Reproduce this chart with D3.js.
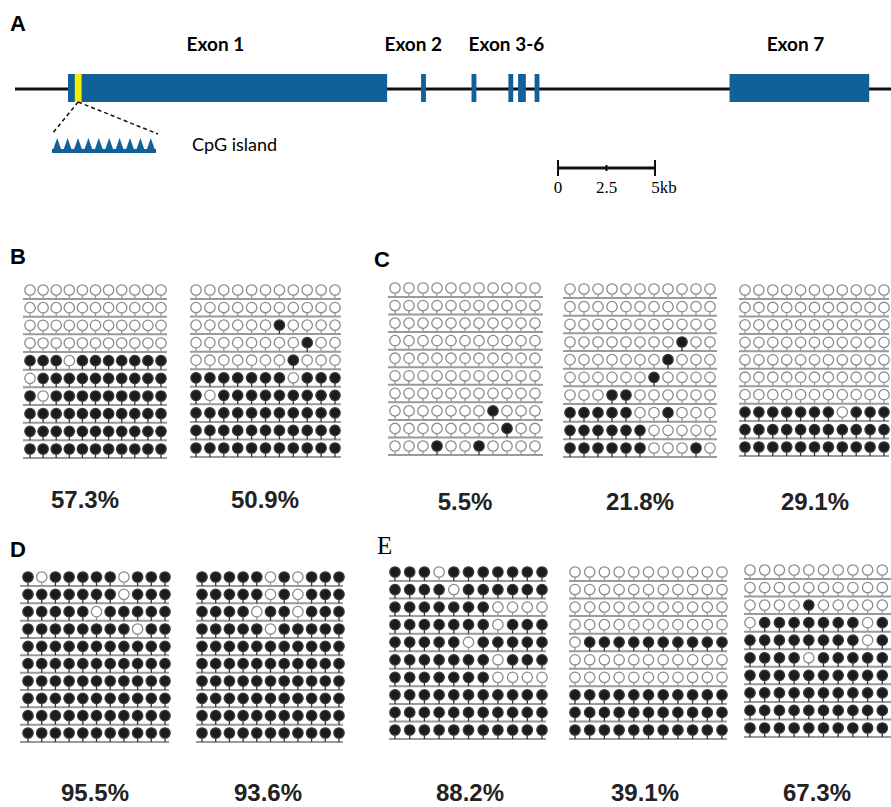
<!DOCTYPE html>
<html>
<head>
<meta charset="utf-8">
<script src="https://cdn.jsdelivr.net/npm/d3@7"></script>
<style>
  body { margin: 0; background: #fff; }
  svg { display: block; }
</style>
</head>
<body>
<div id="fig"></div>
<script>
// gene structure, positions in kb from start of exon 1
const exons = [
    { name: "Exon 1", start: 0, end: 16.45 },
    { name: "Exon 2", start: 18.2, end: 18.45 },
    { name: "Exon 3", start: 20.8, end: 21.05 },
    { name: "Exon 4", start: 22.7, end: 22.95 },
    { name: "Exon 5", start: 23.2, end: 23.6 },
    { name: "Exon 6", start: 24.05, end: 24.3 },
    { name: "Exon 7", start: 34.1, end: 41.3 }
];
const exonLabels = [
    { text: "Exon 1", at: 7.6 },
    { text: "Exon 2", at: 17.8 },
    { text: "Exon 3-6", at: 22.6 },
    { text: "Exon 7", at: 37.5 }
];
const cpgIsland = { start: 0.35, end: 0.7 };
const cpgSites = d3.range(10);
const scaleTicks = [0, 2.5, 5];

// bisulfite clones: 1 = methylated CpG, 0 = unmethylated
const panelB1 = ["00000000000","00000000000","00000000000","00000000000","11101111111",
                 "01111111111","10111111111","11111111111","11111111111","11111111111"];
const panelB2 = ["00000000000","00000000000","00000010000","00000000100","00000001000",
                 "11111110111","10111111111","11111111111","11111111111","11111111111"];
const panelC1 = ["00000000000","00000000000","00000000000","00000000000","00000000000",
                 "00000000000","00000000000","00000001000","00000000100","00010010000"];
const panelC2 = ["00000000000","00000000000","00000000000","00000000100","00000001000",
                 "00000010000","00011000000","11111001000","11111100000","11111100010"];
const panelC3 = ["00000000000","00000000000","00000000000","00000000000","00000000000",
                 "00000000000","00000000000","11111110111","11111111111","11111111111"];
const panelD1 = ["10111110111","11111110111","11111011111","11111111011","11111111111",
                 "11111111111","11111111111","11111111111","11111111111","11111111111"];
const panelD2 = ["11111010111","11111010111","11110110111","11111011111","11111111111",
                 "11111111111","11111111111","11111111111","11111111111","11111111111"];
const panelE1 = ["11101111111","11110111111","11111110000","11111110111","11111011111",
                 "11111110111","11111110000","11111111111","11111111111","11111111111"];
const panelE2 = ["00000000000","00000000000","00000000000","00000000000","01111111111",
                 "00000000000","00000000000","11111111111","11111111111","11111111111"];
const panelE3 = ["00000000000","00000000000","00001000000","01111111011","11111111011",
                 "11110111111","11111111111","11111111111","11111111111","11111111111"];

const panelData = [panelB1, panelB2, panelC1, panelC2, panelC3, panelD1, panelD2, panelE1, panelE2, panelE3];
const pctLabels = ["57.3%", "50.9%", "5.5%", "21.8%", "29.1%", "95.5%", "93.6%", "88.2%", "39.1%", "67.3%"];

// layout of each lollipop block (pixels)
const layout = [
    { x0: 30,  x1: 161, y0: 290, y1: 449, lx0: 23,  lx1: 167, tx: 85,  ty: 508 },
    { x0: 196, x1: 335, y0: 290, y1: 448, lx0: 190, lx1: 341, tx: 265, ty: 508 },
    { x0: 395, x1: 535, y0: 288, y1: 446, lx0: 388, lx1: 543, tx: 465, ty: 510 },
    { x0: 570, x1: 710, y0: 289, y1: 448, lx0: 563, lx1: 717, tx: 640, ty: 510 },
    { x0: 745, x1: 884, y0: 290, y1: 447, lx0: 739, lx1: 889, tx: 815, ty: 510 },
    { x0: 28,  x1: 165, y0: 577, y1: 733, lx0: 20,  lx1: 169, tx: 95,  ty: 801 },
    { x0: 202, x1: 339, y0: 577, y1: 733, lx0: 196, lx1: 343, tx: 268, ty: 801 },
    { x0: 395, x1: 542, y0: 572, y1: 730, lx0: 389, lx1: 546, tx: 470, ty: 801 },
    { x0: 575, x1: 722, y0: 572, y1: 730, lx0: 569, lx1: 727, tx: 645, ty: 801 },
    { x0: 750, x1: 897, y0: 570, y1: 728, lx0: 744, lx1: 900, tx: 817, ty: 801 }
];

const W = 891, H = 807;
const blue = "#12609a";

const svg = d3.select("#fig").append("svg")
    .attr("width", W)
    .attr("height", H);

// ---------- panel A ----------
const kb = d3.scaleLinear().domain([0, 5]).range([68, 165]);
const geneY = 89, boxTop = 74, boxH = 28;

svg.append("line")
    .attr("x1", 15).attr("x2", W)
    .attr("y1", geneY).attr("y2", geneY)
    .attr("stroke", "#111").attr("stroke-width", 3);

svg.selectAll(".exon")
    .data(exons)
    .enter()
    .append("rect")
    .attr("x", d => kb(d.start))
    .attr("y", boxTop)
    .attr("width", d => kb(d.end) - kb(d.start))
    .attr("height", boxH)
    .attr("fill", blue);

svg.append("rect")
    .attr("x", kb(cpgIsland.start))
    .attr("y", boxTop)
    .attr("width", kb(cpgIsland.end) - kb(cpgIsland.start))
    .attr("height", boxH)
    .attr("fill", "#f5f000");

svg.selectAll(".exonlab")
    .data(exonLabels)
    .enter()
    .append("text")
    .attr("x", d => kb(d.at))
    .attr("y", 51)
    .attr("text-anchor", "middle")
    .style("font-family", "Lato, 'Open Sans', sans-serif")
    .style("font-weight", "bold")
    .style("font-size", "19px")
    .text(d => d.text);

// zoom lines to cpg island
const cpgMid = (kb(cpgIsland.start) + kb(cpgIsland.end)) / 2;
[52, 158].forEach(x => {
    svg.append("line")
        .attr("x1", cpgMid).attr("y1", boxTop + boxH)
        .attr("x2", x).attr("y2", 134)
        .attr("stroke", "#111").attr("stroke-width", 1.5)
        .attr("stroke-dasharray", "4,3");
});

const cpgX = d3.scaleBand().domain(cpgSites).range([52, 156]).padding(0);
svg.append("rect")
    .attr("x", 52).attr("y", 149).attr("width", 104).attr("height", 4)
    .attr("fill", blue);
svg.selectAll(".tri")
    .data(cpgSites)
    .enter()
    .append("path")
    .attr("d", d => {
        let x = cpgX(d), w = cpgX.bandwidth();
        return `M${x},153 L${x + w / 2},138 L${x + w},153 Z`;
    })
    .attr("fill", blue);

svg.append("text")
    .attr("x", 192).attr("y", 151)
    .style("font-family", "Lato, 'Open Sans', sans-serif")
    .style("font-size", "18px")
    .text("CpG island");

// scale bar
const sb = d3.scaleLinear().domain([0, 5]).range([558, 655]);
svg.append("line")
    .attr("x1", sb(0)).attr("x2", sb(5))
    .attr("y1", 168).attr("y2", 168)
    .attr("stroke", "#111").attr("stroke-width", 3);
svg.selectAll(".sbtick")
    .data(scaleTicks)
    .enter()
    .append("line")
    .attr("x1", d => sb(d)).attr("x2", d => sb(d))
    .attr("y1", d => d === 2.5 ? 165 : 160)
    .attr("y2", d => d === 2.5 ? 171 : 176)
    .attr("stroke", "#111").attr("stroke-width", 2);
svg.selectAll(".sblab")
    .data(scaleTicks)
    .enter()
    .append("text")
    .attr("x", d => sb(d) + (d === 5 ? 9 : 0))
    .attr("y", 193)
    .attr("text-anchor", "middle")
    .style("font-family", "'Liberation Serif', 'DejaVu Serif', serif")
    .style("font-size", "17px")
    .text(d => d === 5 ? "5kb" : d);

// panel letters
const letters = [
    { t: "A", x: 10, y: 31, serif: false },
    { t: "B", x: 10, y: 264, serif: false },
    { t: "C", x: 374, y: 267, serif: false },
    { t: "D", x: 10, y: 557, serif: false },
    { t: "E", x: 377, y: 554, serif: true }
];
svg.selectAll(".letter")
    .data(letters)
    .enter()
    .append("text")
    .attr("x", d => d.x).attr("y", d => d.y)
    .style("font-family", d => d.serif ? "'Liberation Serif', serif" : "'Liberation Sans', Arial, sans-serif")
    .style("font-weight", d => d.serif ? "normal" : "bold")
    .style("font-size", d => d.serif ? "25px" : "22px")
    .text(d => d.t);

// ---------- methylation lollipops ----------
const r = 5.2;
panelData.forEach((rows, i) => {
    let L = layout[i];
    let x = d3.scaleLinear().domain([0, 10]).range([L.x0, L.x1]);
    let y = d3.scaleLinear().domain([0, 9]).range([L.y0, L.y1]);
    let g = svg.append("g");

    let cells = [];
    rows.forEach((row, ri) => {
        row.split("").forEach((c, ci) => cells.push({ row: ri, col: ci, m: c === "1" }));
    });

    g.selectAll(".base")
        .data(rows)
        .enter()
        .append("line")
        .attr("x1", L.lx0).attr("x2", L.lx1)
        .attr("y1", (d, ri) => y(ri) + 9).attr("y2", (d, ri) => y(ri) + 9)
        .attr("stroke", "#9a9a9a").attr("stroke-width", 2);

    g.selectAll(".stem")
        .data(cells)
        .enter()
        .append("line")
        .attr("x1", d => x(d.col)).attr("x2", d => x(d.col))
        .attr("y1", d => y(d.row) + r).attr("y2", d => y(d.row) + 9)
        .attr("stroke", d => d.m ? "#333" : "#999").attr("stroke-width", 1.3);

    g.selectAll(".cg")
        .data(cells)
        .enter()
        .append("circle")
        .attr("cx", d => x(d.col))
        .attr("cy", d => y(d.row))
        .attr("r", r)
        .attr("fill", d => d.m ? "#1c1c1c" : "#fff")
        .attr("stroke", d => d.m ? "#3a3a3a" : "#8c8c8c")
        .attr("stroke-width", 1.3);

    svg.append("text")
        .attr("x", L.tx).attr("y", L.ty)
        .attr("text-anchor", "middle")
        .style("font-family", "'Liberation Sans', Arial, sans-serif")
        .style("font-weight", "bold")
        .style("font-size", "24px")
        .style("fill", "#222")
        .text(pctLabels[i]);
});
</script>
</body>
</html>
